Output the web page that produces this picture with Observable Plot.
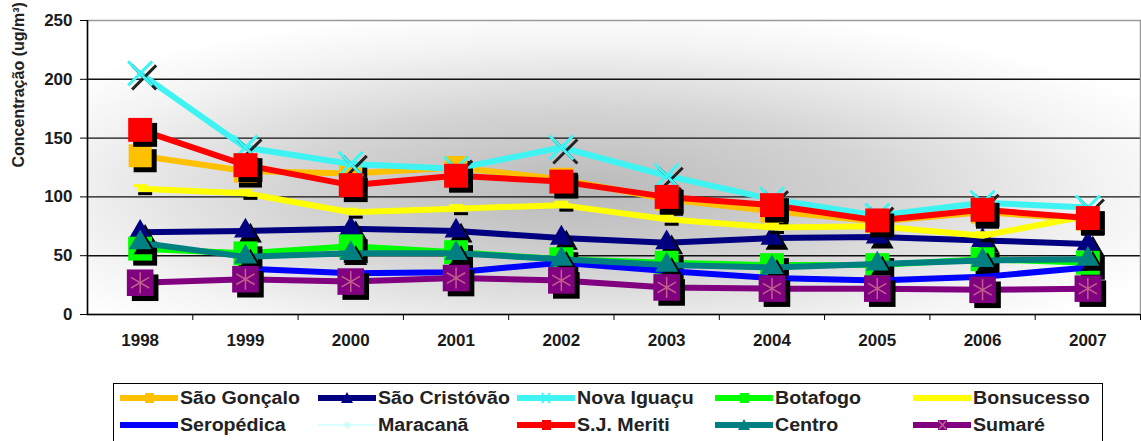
<!DOCTYPE html>
<html><head><meta charset="utf-8">
<script src="https://cdn.jsdelivr.net/npm/d3@7"></script>
<script src="https://cdn.jsdelivr.net/npm/@observablehq/plot@0.6"></script>
<style>
body{margin:0;background:#fff;font-family:"Liberation Sans",Arial,sans-serif;}
#wrap{position:relative;width:1141px;height:441px;overflow:hidden;}
#chart{position:absolute;left:0;top:0;}
#legend{position:absolute;left:113px;top:383px;width:990px;height:80px;border:1px solid #000;box-sizing:border-box;background:#fff;}
.item{position:absolute;display:flex;align-items:center;font-weight:bold;font-size:18px;color:#222;white-space:nowrap;height:22px;}
.item svg{margin-right:2px;}
.item span{display:inline-block;transform:scaleX(1.09);transform-origin:left center;}
</style></head><body>
<div id="wrap"><div id="chart"></div><div id="legend"></div></div>
<script>
// ---- data ----
const years = [1998, 1999, 2000, 2001, 2002, 2003, 2004, 2005, 2006, 2007];
const yTicks = [0, 50, 100, 150, 200, 250];
const yLabel = "Concentração (ug/m³)";
const seriesNames = ["São Gonçalo", "São Cristóvão", "Nova Iguaçu", "Botafogo", "Bonsucesso",
                     "Seropédica", "Maracanã", "S.J. Meriti", "Centro", "Sumaré"];
const saoGoncalo   = [135, 122, 120, 125, 115, 98, 88, 79, 87, 81];
const saoCristovao = [70, 71, 73, 71, 65, 61, 65, 66, 63, 60];
const novaIguacu   = [205, 142, 128, 124, 142, 118, 98, 84, 95, 91];
const botafogo     = [56, 52, 58, 53, 47, 44, 42, 42, 47, 44];
const bonsucesso   = [107, 103, 87, 90, 93, 81, 74, 75, 67, 84];
const seropedica   = [null, 39, 35, 36, 44, 37, 31, 29, 32, 40];
const maracana     = [null, null, null, null, null, null, null, null, null, null];
const sjMeriti     = [157, 127, 110, 118, 113, 100, 93, 80, 89, 82];
const centro       = [61, 49, 52, 52, 47, 42, 40, 43, 46, 47];
const sumare       = [27, 30, 28, 31, 29, 23, 22, 22, 21, 22];
const seriesValues = [saoGoncalo, saoCristovao, novaIguacu, botafogo, bonsucesso,
                      seropedica, maracana, sjMeriti, centro, sumare];

// ---- styles ----
const dash = {draw(ctx){ ctx.rect(-7, -1.5, 14, 3); }};
const styles = [
  {color:"#FFC000", lw:6, symbol:"square", r:13},
  {color:"#000080", lw:6, symbol:"triangle", r:8.5},
  {color:"#3FF3F3", lw:6, symbol:"times", r:11, strokeMarker:true},
  {color:"#00FF00", lw:6, symbol:"square", r:13.5},
  {color:"#FFFF00", lw:6, symbol:dash, r:5, shadowOnly:true},
  {color:"#0000FF", lw:6, symbol:null},
  {color:"#CCFFFF", lw:1.5, symbol:"diamond", r:4},
  {color:"#FF0000", lw:6, symbol:"square", r:13.5},
  {color:"#008080", lw:6, symbol:"triangle", r:8.5},
  {color:"#800080", lw:6, symbol:"square", r:15, asterisk:true}
];

const W = 1141, H = 370, ML = 87, MR = 1, MT = 20, MB = 56;
const bw = (W - ML - MR) / years.length;

const marks = [
  Plot.frame({fill: "url(#bg)"}),
  Plot.ruleY([50, 100, 150, 200], {stroke: "#111", strokeWidth: 1.4}),
  Plot.frame({stroke: "#9a9a9a", strokeWidth: 1.5}),
  Plot.ruleY([0], {stroke: "#000", strokeWidth: 1.5}),
  Plot.ruleX([years[0]], {dx: -bw / 2, stroke: "#000", strokeWidth: 1.5}),
  Plot.axisY({ticks: yTicks, tickSize: 7, tickPadding: 8, label: null, stroke: "#000"}),
  Plot.axisX({tickSize: 6, tickFormat: () => "", dx: bw / 2, label: null, stroke: "#000"}),
  Plot.axisX({tickSize: 0, tickPadding: 19, label: null, tickFormat: d => String(d)}),
  Plot.text([yLabel], {frameAnchor: "left", rotate: -90, dx: -69, fontSize: 16, fontWeight: "bold", fill: "#222"})
];

seriesNames.forEach((name, k) => {
  const st = styles[k];
  const data = years.map((yr, i) => ({year: yr, value: seriesValues[k][i]}));
  const pts = data.filter(d => d.value != null);
  marks.push(Plot.line(data, {x: "year", y: "value", stroke: st.color, strokeWidth: st.lw, strokeLinejoin: "round"}));
  if (!st.symbol) return;
  if (st.strokeMarker) {
    marks.push(Plot.dot(pts, {x: "year", y: "value", symbol: st.symbol, r: st.r, stroke: "#222", strokeWidth: 3, dx: 4, dy: 4}));
    marks.push(Plot.dot(pts, {x: "year", y: "value", symbol: st.symbol, r: st.r, stroke: st.color, strokeWidth: 3}));
  } else {
    marks.push(Plot.dot(pts, {x: "year", y: "value", symbol: st.symbol, r: st.r, fill: "#000", dx: 5, dy: 5}));
    if (!st.shadowOnly) {
      marks.push(Plot.dot(pts, {x: "year", y: "value", symbol: st.symbol, r: st.r, fill: st.color}));
    } else {
      marks.push(Plot.dot(pts, {x: "year", y: "value", symbol: st.symbol, r: st.r, fill: st.color, dx: 0, dy: -3}));
    }
    if (st.asterisk) {
      marks.push(Plot.dot(pts, {x: "year", y: "value", symbol: "asterisk", r: 10, stroke: "#C0608A", strokeWidth: 1.5}));
    }
  }
});

const svg = Plot.plot({
  width: W, height: H,
  marginLeft: ML, marginRight: MR, marginTop: MT, marginBottom: MB,
  x: {type: "band", domain: years, padding: 0, round: false},
  y: {domain: [0, 250]},
  style: {fontFamily: "'Liberation Sans', Arial, sans-serif", fontSize: "17px", fontWeight: "bold", color: "#1a1a1a", background: "#fff"},
  marks
});

const defs = d3.select(svg).insert("defs", ":first-child");
const grad = defs.append("radialGradient").attr("id", "bg")
  .attr("cx", "0.47").attr("cy", "0.58").attr("r", "0.62").attr("fx", "0.47").attr("fy", "0.58");
grad.append("stop").attr("offset", "0").attr("stop-color", "#b9b9b9");
grad.append("stop").attr("offset", "0.45").attr("stop-color", "#d4d4d4");
grad.append("stop").attr("offset", "0.8").attr("stop-color", "#f3f3f3");
grad.append("stop").attr("offset", "1").attr("stop-color", "#ffffff");

document.getElementById("chart").appendChild(svg);

// ---- legend ----
const legend = document.getElementById("legend");
const colX = [6, 204, 403, 601, 799];
const rowY = [3, 30];
seriesNames.forEach((name, k) => {
  const st = styles[k];
  const item = document.createElement("div");
  item.className = "item";
  item.style.left = colX[k % 5] + "px";
  item.style.top = rowY[Math.floor(k / 5)] + "px";
  const s = d3.create("svg").attr("width", 58).attr("height", 22);
  s.append("line").attr("x1", 0).attr("x2", 58).attr("y1", 11).attr("y2", 11)
    .attr("stroke", st.color).attr("stroke-width", st.lw);
  if (st.symbol === "square") {
    s.append("rect").attr("x", 25).attr("y", 6).attr("width", 9).attr("height", 10).attr("fill", st.color);
    if (st.asterisk) s.append("path").attr("d", "M26,7L33,15M33,7L26,15").attr("stroke", "#C0608A").attr("stroke-width", 1.5);
  } else if (st.symbol === "triangle") {
    s.append("path").attr("d", "M29,5L35,16L23,16Z").attr("fill", st.color);
  } else if (st.symbol === "times") {
    s.append("path").attr("d", "M25,6L33,16M33,6L25,16").attr("stroke", st.color).attr("stroke-width", 2);
  } else if (st.symbol === "diamond") {
    s.append("path").attr("d", "M29,7L33,11L29,15L25,11Z").attr("fill", st.color);
  }
  item.appendChild(s.node());
  const t = document.createElement("span");
  t.textContent = name;
  item.appendChild(t);
  legend.appendChild(item);
});
</script>
</body></html>
